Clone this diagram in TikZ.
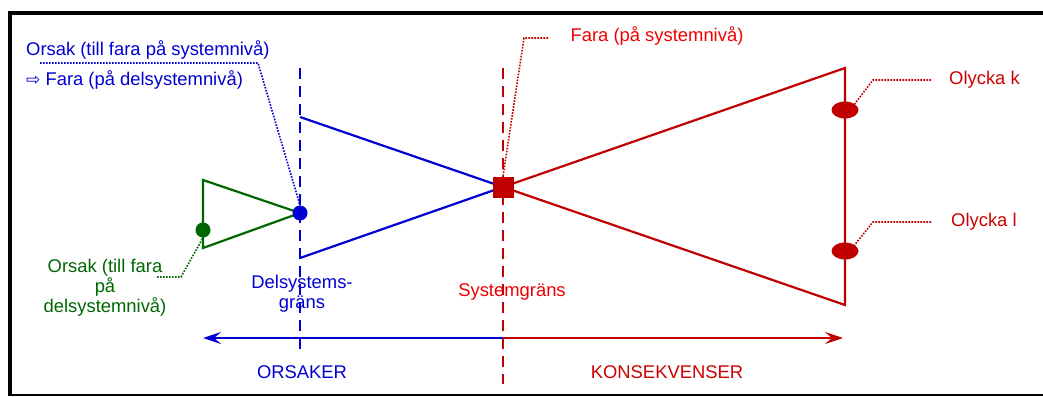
\documentclass[tikz,border=0pt]{standalone}
\usepackage{fontspec}
\setmainfont{Liberation Sans}
\newfontfamily\symfont{DejaVu Sans}
\usetikzlibrary{arrows.meta,shapes.geometric}
\definecolor{cblue}{RGB}{0,0,210}
\definecolor{cred}{RGB}{192,0,0}
\definecolor{bred}{RGB}{240,0,0}
\definecolor{dred}{RGB}{204,0,0}
\definecolor{cgreen}{RGB}{0,102,0}
\pgfdeclarelayer{bg}
\pgfsetlayers{bg,main}
\begin{document}
\begin{tikzpicture}[x=1pt,y=-1pt,
  lbl/.style={inner sep=0pt,font=\fontsize{18.4}{20}\selectfont},
  shapeline/.style={line width=2.2pt,line join=miter},
  boundary/.style={line width=2pt,dash pattern=on 11pt off 7pt},
  leader/.style={line width=1.6pt,dash pattern=on 1.6pt off 1.4pt},
  axis/.style={line width=2.6pt},
  tipstyle/.style={-{Stealth[length=18pt,width=12pt,inset=7pt]}},
  dotnode/.style={circle,inner sep=0pt,minimum size=15pt},
]
\useasboundingbox (0,0) rectangle (1043,396);
% frame
\fill[black] (8,11) rectangle (1043,15);
\fill[black] (8,11) rectangle (12,396);
\fill[black] (8,394) rectangle (1043,396);

% nodes
\node[dotnode,fill=cblue] (bd) at (300,213) {};
\node[dotnode,fill=cgreen] (gd) at (203,230) {};
\node[fill=cred,inner sep=0pt,minimum size=21pt] (sq) at (503,187) {};
\node[ellipse,fill=cred,inner sep=0pt,minimum width=27pt,minimum height=17pt] (ek) at (845,110) {};
\node[ellipse,fill=cred,inner sep=0pt,minimum width=27pt,minimum height=17pt] (el) at (845,251) {};

\coordinate (b1) at (300,117);
\coordinate (b2) at (300,258);
\coordinate (r1) at (845,68);
\coordinate (r2) at (845,305);
\coordinate (g1) at (203,180);
\coordinate (g2) at (203,248);

\begin{pgfonlayer}{bg}
\draw[shapeline,cblue] (b1) -- (sq.center) -- (b2);
\draw[shapeline,cred] (sq.center) -- (r1) -- (r2) -- cycle;
\draw[shapeline,cgreen] (bd.center) -- (g1) -- (g2) -- cycle;
\coordinate (bt) at (300,68);
\coordinate (bb) at (300,356);
\coordinate (rt) at (503,68);
\coordinate (rb) at (503,384);
\draw[boundary,cblue] (bt) -- (bb);
\draw[boundary,cred] (rt) -- (rb);
\end{pgfonlayer}

% texts
\node[lbl,cblue,anchor=west] (t1) at (26,50) {Orsak (till fara på systemnivå)};
\node[lbl,cblue,anchor=west] (t2) at (26,80) {{\symfont\fontsize{17}{18}\selectfont ⇨} Fara (på delsystemnivå)};
\node[lbl,bred] (tf) at (657,36) {Fara (på systemnivå)};
\node[lbl,dred,anchor=west] (tk) at (949,80) {Olycka k};
\node[lbl,dred,anchor=west] (tl) at (951,222) {Olycka l};
\node[lbl,cgreen,align=center] (tg) at (105,288) {Orsak (till fara\\på\\delsystemnivå)};
\node[lbl,cblue,align=center] (td) at (302,294) {Delsystems-\\gräns};
\node[lbl,bred] (ts) at (512,292) {Systemgräns};
\node[lbl,cblue] (to) at (302,372) {ORSAKER};
\node[lbl,dred] (tkons) at (667,372) {KONSEKVENSER};

% leaders
\coordinate (l1a) at (40,63);
\coordinate (l1b) at (258,63);
\draw[leader,cblue] (l1a) -- (l1b) -- (bd.north);
\coordinate (lfa) at (548,38);
\coordinate (lfb) at (524,38);
\draw[leader,cred] (lfa) -- (lfb) -- (sq.north);
\coordinate (lka) at (931,80);
\coordinate (lkb) at (873,80);
\draw[leader,cred] (lka) -- (lkb) -- (ek.north east);
\coordinate (lla) at (931,222);
\coordinate (llb) at (873,222);
\draw[leader,cred] (lla) -- (llb) -- (el.north east);
\coordinate (lga) at (157,277);
\coordinate (lgb) at (181,277);
\draw[leader,cgreen] (lga) -- (lgb) -- (gd.south);

% axis arrows
\coordinate (am) at (503,338);
\coordinate (al) at (203,338);
\coordinate (ar) at (843,338);
\draw[axis,cblue,tipstyle] (am) -- (al);
\draw[axis,cred,tipstyle] (am) -- (ar);
\end{tikzpicture}
\end{document}
